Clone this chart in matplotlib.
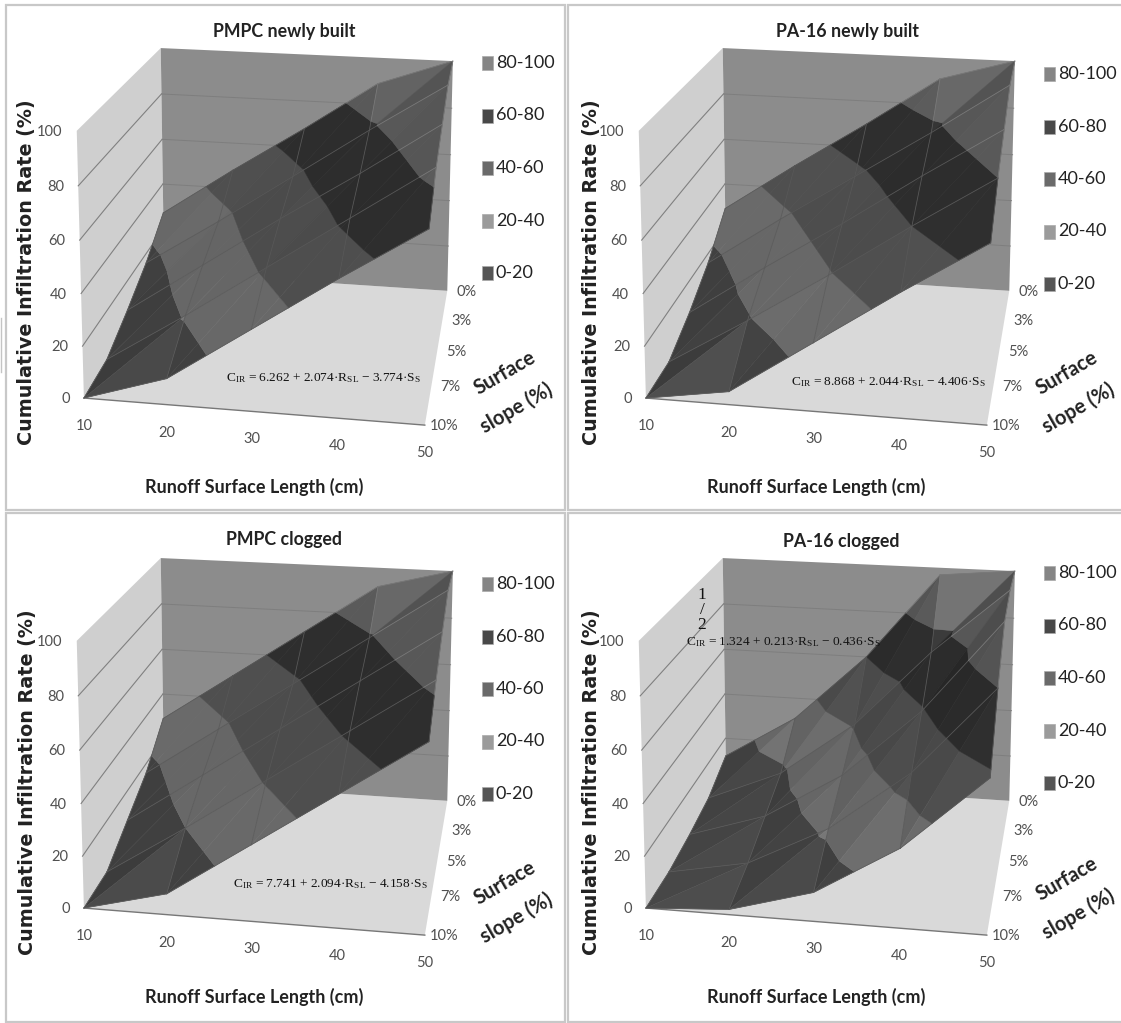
import matplotlib
matplotlib.use("Agg")
import matplotlib.pyplot as plt
import numpy as np
from matplotlib.patches import Rectangle, Polygon

plt.rcParams["mathtext.default"] = "regular"

W, H = 1121, 1023
fig = plt.figure(figsize=(W / 100, H / 100), dpi=100)
ax = fig.add_axes([0, 0, 1, 1])
ax.set_xlim(0, W); ax.set_ylim(H, 0); ax.axis("off")

# ---------------- data ----------------
lengths = [10, 20, 30, 40, 50]
slopes = ["0%", "3%", "5%", "7%", "10%"]
z_ticks = [0, 20, 40, 60, 80, 100]
band_labels = ["80-100", "60-80", "40-60", "20-40", "0-20"]

# rows = runoff length, columns = surface slope
pmpc_new = [[27, 16, 8, 1, 0],
            [48, 36, 29, 21, 10],
            [68, 57, 50, 42, 31],
            [89, 78, 70, 63, 52],
            [100, 98, 91, 84, 72]]
pa16_new = [[29, 16, 7, 0, 0],
            [50, 37, 28, 19, 5],
            [70, 57, 48, 39, 26],
            [91, 77, 69, 60, 47],
            [100, 98, 89, 80, 67]]
pmpc_clog = [[29, 16, 8, 0, 0],
             [50, 37, 29, 20, 8],
             [71, 58, 50, 41, 29],
             [92, 79, 71, 62, 50],
             [100, 100, 92, 83, 71]]
pa16_clog = [[12, 5, 2, 0, 0],
             [31, 18, 12, 6, 2],
             [60, 41, 31, 22, 11],
             [97, 73, 59, 46, 30],
             [100, 100, 96, 80, 58]]

titles = ["PMPC newly built", "PA-16 newly built", "PMPC clogged", "PA-16 clogged"]
formulas = [
    r"C$_{IR}$ = 6.262 + 2.074·R$_{SL}$ − 3.774·S$_{S}$",
    r"C$_{IR}$ = 8.868 + 2.044·R$_{SL}$ − 4.406·S$_{S}$",
    r"C$_{IR}$ = 7.741 + 2.094·R$_{SL}$ − 4.158·S$_{S}$",
    r"C$_{IR}$ = 1.324 + 0.213·R$_{SL}$ − 0.436·S$_{S}$",
]

# ---------------- styles ----------------
BAND_COL = {0: "#444444", 20: "#6e6e6e", 40: "#525252", 60: "#303030", 80: "#5e5e5e"}
LINE_COL = {0: "#5a5a5a", 20: "#5c5c5c", 40: "#565656", 60: "#565656", 80: "#787878"}
LEG_COL = ["#858585", "#484848", "#6a6a6a", "#9b9b9b", "#555555"]
TXT = "#222222"; TICK = "#505050"
FORM_FONT = "Liberation Serif"

# box corners on screen: unit box (length, slope, height) -> px for the first panel
corners3 = [(0, 1, 0), (1, 1, 0), (1, 0, 0), (0, 0, 0), (0, 1, 1), (0, 0, 1), (1, 0, 1)]
corners2 = [(83, 398), (425, 425), (447, 291), (165, 272), (77.5, 131), (160, 48), (453, 61)]

A = []
for (u, v, w), (x, y) in zip(corners3, corners2):
    A.append([u, v, w, 1, 0, 0, 0, 0, -x*u, -x*v, -x*w, -x])
    A.append([0, 0, 0, 0, u, v, w, 1, -y*u, -y*v, -y*w, -y])
CAM = np.linalg.svd(np.array(A))[2][-1].reshape(3, 4)

def proj(u, v, w, dx=0, dy=0):
    p = CAM @ np.array([u, v, w, 1.0])
    return p[0] / p[2] + dx, p[1] / p[2] + dy

def clip(poly, lo, hi):
    # Sutherland-Hodgman on height only
    for lim, keep_above in [(lo, True), (hi, False)]:
        out = []
        for i in range(len(poly)):
            a, b = poly[i], poly[(i + 1) % len(poly)]
            ina = a[2] >= lim if keep_above else a[2] <= lim
            inb = b[2] >= lim if keep_above else b[2] <= lim
            if ina:
                out.append(a)
            if ina != inb:
                t = (lim - a[2]) / (b[2] - a[2])
                out.append(tuple(a[k] + t * (b[k] - a[k]) for k in range(3)))
        poly = out
        if not poly:
            return []
    return poly

def shade(col, f):
    rgb = np.array(matplotlib.colors.to_rgb(col)) * f
    return tuple(np.clip(rgb, 0, 1))

def facet(tri, dx, dy):
    p0, p1, p2 = [np.array(t, float) for t in tri]
    n = np.cross(p1 - p0, p2 - p0)
    n = n / np.linalg.norm(n) * np.sign(n[2] if n[2] else 1)
    f = 1.0 + 0.55 * (n[0] * 0.75 + n[1] * 0.35 + 0.25)
    for lo in BAND_COL:
        poly = clip(list(map(tuple, tri)), lo / 100, (lo + 20) / 100)
        if len(poly) < 3:
            continue
        c = shade(BAND_COL[lo], f)
        ax.add_patch(Polygon([proj(*q, dx, dy) for q in poly], closed=True, fc=c, ec=c, lw=0.3, zorder=3))

def grid_seg(a, b, dx, dy):
    # one surface grid segment, cut at the band limits so it takes each band's line colour
    for lo in LINE_COL:
        hi = lo + 20
        za, zb = a[2] * 100, b[2] * 100
        if za == zb:
            ts = (0, 1) if lo <= za < hi or (za == 100 and lo == 80) else None
        else:
            t0, t1 = sorted([(lo - za) / (zb - za), (hi - za) / (zb - za)])
            t0, t1 = max(t0, 0), min(t1, 1)
            ts = (t0, t1) if t1 > t0 else None
        if ts is None:
            continue
        p = [proj(*[a[k] + t * (b[k] - a[k]) for k in range(3)], dx, dy) for t in ts]
        ax.plot(*zip(*p), color=LINE_COL[lo], lw=0.6, zorder=4)

def panel(Z, title, formula, dx, dy, frame_y, title_xy, leg_xy, form_xy, ylab_x, slope_dy=0):
    Z = np.array(Z, float) / 100
    nl, ns = Z.shape
    # frame
    ax.add_patch(Rectangle((dx + 6, frame_y[0]), 559, frame_y[1] - frame_y[0], fc="white", ec="#c8c8c8", lw=1.6, zorder=0))
    # floor and walls
    P = lambda u, v, w: proj(u, v, w, dx, dy)
    ax.add_patch(Polygon([P(0, 1, 0), P(1, 1, 0), P(1, 0, 0), P(0, 0, 0)], fc="#d9d9d9", ec="none", zorder=1))
    ax.add_patch(Polygon([P(0, 1, 0), P(0, 0, 0), P(0, 0, 1), P(0, 1, 1)], fc="#cfcfcf", ec="none", zorder=1))
    ax.add_patch(Polygon([P(0, 0, 0), P(1, 0, 0), P(1, 0, 1), P(0, 0, 1)], fc="#8c8c8c", ec="none", zorder=1))
    for z in z_ticks:
        a, b, c = P(0, 1, z / 100), P(0, 0, z / 100), P(1, 0, z / 100)
        if 0 < z < 100:
            ax.plot([a[0], b[0]], [a[1], b[1]], color="#808080", lw=0.8, zorder=2)
            ax.plot([b[0], c[0]], [b[1], c[1]], color="#7e7e7e", lw=0.7, zorder=2)
        xy = P(0, 1, z / 100)
        ax.text(xy[0] - 14, xy[1] + 1, str(z), ha="right", va="center", fontsize=10.5, family="Lato", color=TICK, zorder=6)
    a, b = P(0, 1, 0), P(1, 1, 0)
    ax.plot([a[0], b[0]], [a[1], b[1]], color="#777777", lw=1.0, zorder=2)
    for i, lab in enumerate(lengths):
        xy = P(i / 4, 1, 0)
        ax.text(xy[0], xy[1] + 28, str(lab), ha="center", va="center", fontsize=10.5, family="Lato", color=TICK)
    for j, lab in enumerate(slopes):
        xy = P(1, j / 4, 0)
        ax.text(xy[0] + 19, xy[1] + 1, lab, ha="center", va="center", fontsize=10.5, family="Lato", color=TICK)
    # surface, back to front
    for j in range(ns - 1):
        for i in range(nl - 1):
            u0, u1, v0, v1 = i / 4, (i + 1) / 4, j / 4, (j + 1) / 4
            q00 = (u0, v0, Z[i, j]); q10 = (u1, v0, Z[i + 1, j])
            q01 = (u0, v1, Z[i, j + 1]); q11 = (u1, v1, Z[i + 1, j + 1])
            facet([q00, q10, q01], dx, dy)
            facet([q10, q11, q01], dx, dy)
    for i in range(nl):
        for j in range(ns - 1):
            grid_seg((i / 4, j / 4, Z[i, j]), (i / 4, (j + 1) / 4, Z[i, j + 1]), dx, dy)
    for j in range(ns):
        for i in range(nl - 1):
            grid_seg((i / 4, j / 4, Z[i, j]), ((i + 1) / 4, j / 4, Z[i + 1, j]), dx, dy)
    # texts
    ax.text(*title_xy, title, ha="center", va="center", fontsize=12.8, fontweight="bold", family="Lato", color=TXT)
    ax.text(dx + 254, dy + 487, "Runoff Surface Length (cm)", ha="center", va="center",
            fontsize=13, fontweight="bold", family="Lato", color=TXT)
    ax.text(ylab_x, dy + 272, "Cumulative Infiltration Rate (%)", rotation=90, ha="center", va="center",
            fontsize=13.8, fontweight="bold", family="DejaVu Sans", color=TXT)
    ax.text(dx + 505, dy + 373 + slope_dy, "Surface", rotation=30, ha="center", va="center",
            fontsize=14.5, fontweight="bold", family="Lato", color=TXT)
    ax.text(dx + 516, dy + 408 + slope_dy, "slope (%)", rotation=30, ha="center", va="center",
            fontsize=14.5, fontweight="bold", family="Lato", color=TXT)
    ax.text(*form_xy, formula, ha="center", va="center", fontsize=9.6, family=FORM_FONT, color="#111111", zorder=6)
    # legend
    for k, lab in enumerate(band_labels):
        y = leg_xy[1] + k * 52.5
        ax.add_patch(Rectangle((leg_xy[0], y - 7), 11, 14, fc=LEG_COL[k], ec="#aaaaaa", lw=0.5, zorder=5))
        ax.text(leg_xy[0] + 14, y, lab, ha="left", va="center", fontsize=13, family="Lato", color=TXT)

panel(pmpc_new, titles[0], formulas[0], 0, 0, (5, 510), (284, 32), (482, 63), (323, 378), 27)
panel(pa16_new, titles[1], formulas[1], 562, 0, (5, 510), (847, 31), (1044, 74), (888, 382), 591)
panel(pmpc_clog, titles[2], formulas[2], 0, 510, (513, 1022), (284, 540), (482, 584), (330, 884), 28)
panel(pa16_clog, titles[3], formulas[3], 562, 510, (513, 1022), (841, 541), (1044, 573), (783, 642), 592, slope_dy=-4)
# the 1/2 exponent of the last formula sits stacked above its C
ax.text(702, 610, "1\n/\n2", ha="center", va="center", fontsize=12.5, linespacing=0.9, family=FORM_FONT, color="#111111", zorder=6)
# thin stray mark on the left edge of the scan
ax.plot([0.5, 0.5], [318, 372], color="#c4c4c4", lw=1)

fig.savefig("out.png", dpi=100, facecolor="white")
